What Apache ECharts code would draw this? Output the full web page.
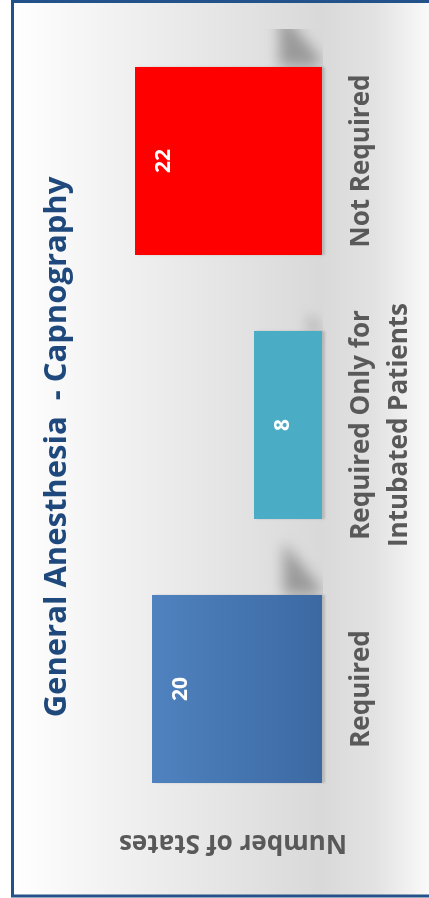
<!DOCTYPE html>
<html>
<head>
<meta charset="utf-8">
<script src="https://cdn.jsdelivr.net/npm/echarts@6/dist/echarts.min.js"></script>
<style>
html,body{margin:0;padding:0;background:#fff;}
#chart{width:429px;height:898px;}
</style>
</head>
<body>
<div id="chart"></div>
<script>
const categories = ['Required', 'Required Only for\nIntubated Patients', 'Not Required'];
const values = [20, 8, 22];
const titleText = 'General Anesthesia  - Capnography';
const axisTitle = 'Number of States';
const valueMin = 0;
const valueMax = 25;

const FONT = '"Open Sans", "Noto Sans", sans-serif';
const chart = echarts.init(document.getElementById('chart'));

const barColors = [
  new echarts.graphic.LinearGradient(0, 0, 1, 0, [
    {offset: 0, color: '#4F82BF'}, {offset: 1, color: '#3C69A2'}
  ]),
  '#4BACC6',
  '#FF0000'
];

const option = {
  animation: false,
  backgroundColor: '#ffffff',
  graphic: [
    {
      type: 'rect', z: -100, silent: true,
      shape: {x: 12.5, y: 1.5, width: 440, height: 894.5},
      style: {
        fill: new echarts.graphic.LinearGradient(0, 0, 1, 0, [
          {offset: 0, color: '#ffffff'},
          {offset: 0.15, color: '#f6f6f6'},
          {offset: 0.7, color: '#d9d9d9'},
          {offset: 0.82, color: '#e2e2e2'},
          {offset: 0.95, color: '#fbfbfb'},
          {offset: 1, color: '#ffffff'}
        ]),
        stroke: '#23528A', lineWidth: 3
      }
    },
    {
      type: 'text', z: 10, x: 57, y: 447, rotation: Math.PI / 2,
      style: {
        text: titleText, fill: '#1F497D',
        font: 'bold 31px ' + FONT,
        align: 'center', verticalAlign: 'middle'
      }
    },
    {
      type: 'text', z: 10, x: 233, y: 842, rotation: Math.PI,
      style: {
        text: axisTitle, fill: '#595959',
        font: 'bold 26px ' + FONT,
        align: 'center', verticalAlign: 'middle'
      }
    }
  ],
  grid: {left: 109.5, right: 107, top: 29, bottom: 77, containLabel: false},
  xAxis: {
    type: 'value', inverse: true, min: valueMin, max: valueMax,
    show: false
  },
  yAxis: {
    type: 'category', position: 'right', data: categories,
    axisLine: {show: false}, axisTick: {show: false},
    axisLabel: {
      interval: 0, hideOverlap: false,
      rotate: 90, margin: 21, color: '#595959',
      fontFamily: FONT, fontWeight: 'bold', fontSize: 26, lineHeight: 38
    },
    splitLine: {show: false}
  },
  series: [
    {
      type: 'custom', z: 1, clip: true, silent: true,
      data: values.map((v, i) => [v, i]),
      encode: {x: 0, y: 1},
      renderItem: function (params, api) {
        const v = api.value(0), idx = api.value(1);
        const base = api.coord([0, idx]);
        const tip = api.coord([v * 0.25, idx]);
        const band = api.size([0, 1])[1];
        const top = base[1] - band * 0.356;
        const w = base[0] - tip[0];
        const h = w * 1.3;
        const off = 2000;
        const pts = [
          [base[0] - 2, top], [tip[0] + 4, top], [tip[0] + 4, top - h + 4],
          [tip[0] + w * 0.12, top - h + 4], [base[0] - 2, top - h * 0.15]
        ].map(p => [p[0] + off, p[1]]);
        return {
          type: 'polygon',
          shape: {points: pts},
          style: {
            fill: 'rgba(120,120,120,1)',
            shadowColor: 'rgba(125,125,125,0.7)',
            shadowBlur: 14,
            shadowOffsetX: -off
          }
        };
      }
    },
    {
      type: 'bar', z: 2, barWidth: '71.2%',
      data: values.map((v, i) => ({value: v, itemStyle: {color: barColors[i]}})),
      itemStyle: {
        shadowColor: 'rgba(0,0,0,0.15)', shadowBlur: 2, shadowOffsetX: 3
      },
      label: {
        show: true, position: 'insideLeft', distance: 29, rotate: 90,
        align: 'center', verticalAlign: 'middle',
        color: '#ffffff', fontFamily: FONT, fontWeight: 'bold', fontSize: 21
      }
    }
  ]
};
chart.setOption(option);
</script>
</body>
</html>
